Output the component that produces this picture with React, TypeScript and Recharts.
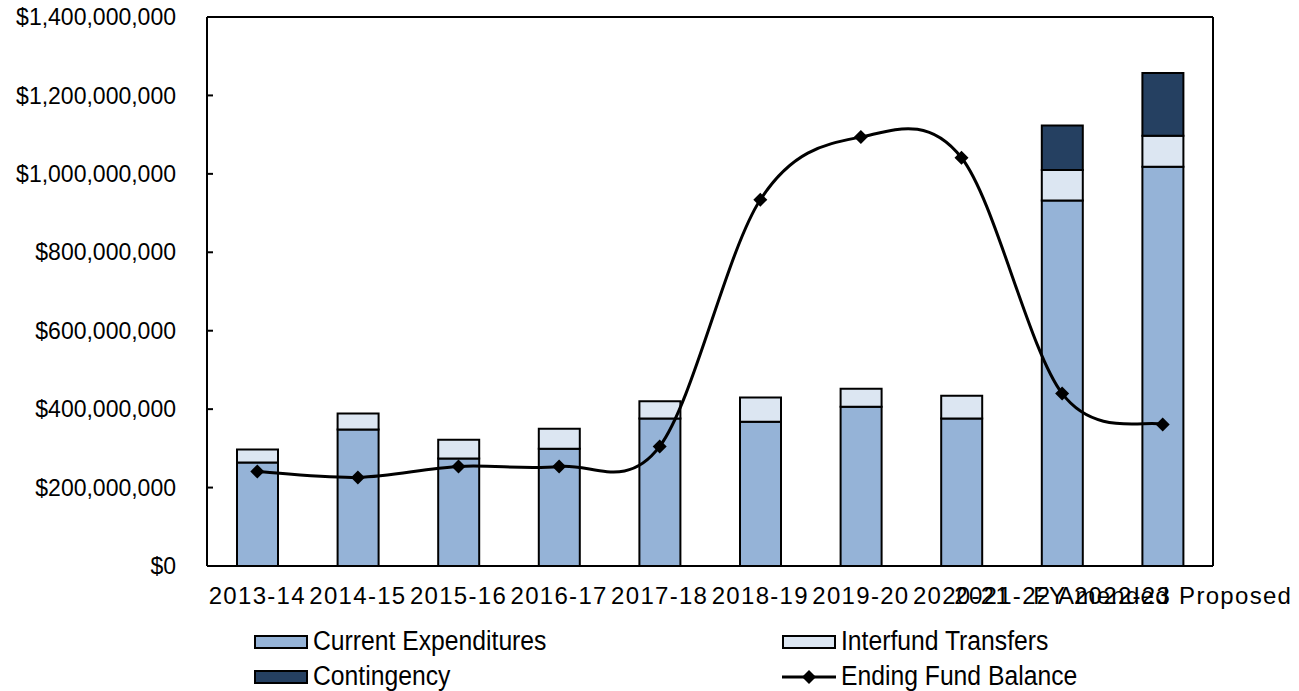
import { Bar, ComposedChart, Line, XAxis, YAxis } from "recharts"

// values in millions of dollars
const categories = ["2013-14", "2014-15", "2015-16", "2016-17", "2017-18", "2018-19", "2019-20", "2020-21", "2021-22 Amended", "FY 2022-23 Proposed"]
const currentExpenditures = [264, 348, 274, 299, 376, 368, 406, 376, 932, 1018]
const interfundTransfers = [33, 41, 48, 51, 44, 62, 46, 58, 78, 79]
const contingency = [0, 0, 0, 0, 0, 0, 0, 0, 113, 160]
const endingFundBalance = [241, 226, 254, 254, 305, 934, 1094, 1041, 440, 361]
const yTicks = [0, 200, 400, 600, 800, 1000, 1200, 1400]

const data = categories.map((name, i) => ({
    name,
    current: currentExpenditures[i],
    transfers: interfundTransfers[i],
    contingency: contingency[i],
    balance: endingFundBalance[i],
}))

const FONT = "'Liberation Sans', Arial, sans-serif"
const COLORS = { current: "#95b3d7", transfers: "#dce6f2", contingency: "#254061" }

// Excel-style smoothed line (Catmull-Rom through the points)
const excelCurve = (context: any) => {
    let pts: number[][] = []
    return {
        areaStart() {},
        areaEnd() {},
        lineStart() { pts = [] },
        point(x: number, y: number) { pts.push([+x, +y]) },
        lineEnd() {
            if (!pts.length) return
            context.moveTo(pts[0][0], pts[0][1])
            for (let i = 0; i < pts.length - 1; i++) {
                const p0 = pts[Math.max(0, i - 1)]
                const p1 = pts[i]
                const p2 = pts[i + 1]
                const p3 = pts[Math.min(pts.length - 1, i + 2)]
                context.bezierCurveTo(
                    p1[0] + (p2[0] - p0[0]) / 6, p1[1] + (p2[1] - p0[1]) / 6,
                    p2[0] - (p3[0] - p1[0]) / 6, p2[1] - (p3[1] - p1[1]) / 6,
                    p2[0], p2[1]
                )
            }
        },
    }
}

const Diamond = (props: any) => {
    const { cx, cy, index } = props
    const r = 7
    return <path key={`d-${index}`} d={`M${cx},${cy - r}L${cx + r},${cy}L${cx},${cy + r}L${cx - r},${cy}Z`} fill="#000" />
}

const legendItems = [
    { label: "Current Expenditures", color: COLORS.current, kind: "rect" },
    { label: "Interfund Transfers", color: COLORS.transfers, kind: "rect" },
    { label: "Contingency", color: COLORS.contingency, kind: "rect" },
    { label: "Ending Fund Balance", color: "#000", kind: "line" },
]

export default function App() {
    return (
        <div style={{ position: "absolute", left: 0, top: 0, width: 1299, height: 691, background: "#fff", fontFamily: FONT }}>
            <ComposedChart width={1299} height={620} data={data} margin={{ top: 16, right: 85, bottom: 14, left: 7 }} barSize={41}>
                <XAxis
                    dataKey="name"
                    interval={0}
                    height={40}
                    tickLine={false}
                    tickSize={6}
                    tickMargin={15}
                    axisLine={{ stroke: "#000", strokeWidth: 2 }}
                    tick={{ fill: "#000", fontSize: 24, fontFamily: FONT, letterSpacing: 1.3 }}
                />
                {/* top + right axes only draw the plot frame */}
                <XAxis xAxisId="top" dataKey="name" orientation="top" height={1} tick={false} tickLine={false} axisLine={{ stroke: "#000", strokeWidth: 2 }} />
                <YAxis
                    width={200}
                    domain={[0, 1400]}
                    ticks={yTicks}
                    interval={0}
                    tickSize={-6}
                    tickMargin={37}
                    tickLine={{ stroke: "#000", strokeWidth: 2 }}
                    axisLine={{ stroke: "#000", strokeWidth: 2 }}
                    tick={{ fill: "#000", fontSize: 23, fontFamily: FONT }}
                    tickFormatter={(v: number) => "$" + (v * 1000000).toLocaleString("en-US")}
                />
                <YAxis yAxisId="right" orientation="right" width={1} domain={[0, 1400]} tick={false} tickLine={false} axisLine={{ stroke: "#000", strokeWidth: 2 }} />
                <Bar dataKey="current" stackId="a" fill={COLORS.current} stroke="#000" strokeWidth={2} isAnimationActive={false} />
                <Bar dataKey="transfers" stackId="a" fill={COLORS.transfers} stroke="#000" strokeWidth={2} isAnimationActive={false} />
                <Bar dataKey="contingency" stackId="a" fill={COLORS.contingency} stroke="#000" strokeWidth={2} isAnimationActive={false} />
                <Line
                    dataKey="balance"
                    type={excelCurve as any}
                    stroke="#000"
                    strokeWidth={3}
                    dot={Diamond}
                    activeDot={false}
                    isAnimationActive={false}
                />
                <Line
                    xAxisId="top"
                    yAxisId="right"
                    dataKey="balance"
                    stroke="none"
                    dot={false}
                    activeDot={false}
                    legendType="none"
                    isAnimationActive={false}
                />
            </ComposedChart>

            {/* Legend */}
            <div style={{ position: "absolute", left: 254, top: 624, width: 1000, display: "grid", gridTemplateColumns: "528px 472px" }}>
                {legendItems.map((item) => (
                    <div key={item.label} style={{ display: "flex", alignItems: "center", height: 35, fontSize: 27, color: "#000", whiteSpace: "nowrap" }}>
                        {item.kind === "rect" ? (
                            <span style={{ display: "inline-block", flex: "none", width: 50, height: 10, border: "2px solid #000", background: item.color }} />
                        ) : (
                            <svg width={54} height={20} style={{ flex: "none" }}>
                                <line x1={0} y1={10} x2={54} y2={10} stroke="#000" strokeWidth={3} />
                                <path d="M27,3L34,10L27,17L20,10Z" fill="#000" />
                            </svg>
                        )}
                        <span style={{ display: "inline-block", marginLeft: 5, transform: "scaleX(0.915)", transformOrigin: "left center" }}>{item.label}</span>
                    </div>
                ))}
            </div>
        </div>
    )
}
